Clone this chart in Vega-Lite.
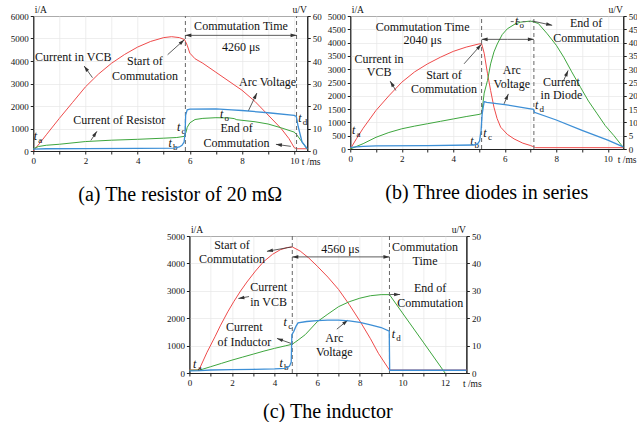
{
  "$schema": "https://vega.github.io/schema/vega-lite/v6.json",
  "padding": {"left": 9, "top": 3, "right": 0, "bottom": 0},
  "background": "white",
  "config": {
    "view": {"stroke": "#222", "strokeWidth": 1},
    "font": "Liberation Serif",
    "axis": {"labelFont": "Liberation Serif", "labelFontSize": 9, "labelColor": "#111", "titleFont": "Liberation Serif", "titleFontSize": 9.5, "titleFontWeight": "normal", "titleColor": "#111", "domainColor": "#222", "domainWidth": 1, "tickColor": "#222", "tickSize": 3, "labelPadding": 2, "gridColor": "#e6e6e6", "gridWidth": 0.7, "labelOverlap": false, "labelFlush": false},
    "text": {"font": "Liberation Serif"},
    "title": {"font": "Liberation Serif"}
  },
  "datasets": {
    "aI": [
      {"s":"A","t":0,"v":0},{"s":"A","t":0.25,"v":350},{"s":"A","t":0.5,"v":720},{"s":"A","t":1,"v":1450},{"s":"A","t":1.5,"v":2150},{"s":"A","t":2,"v":2850},{"s":"A","t":2.5,"v":3420},{"s":"A","t":3,"v":3900},{"s":"A","t":3.5,"v":4290},{"s":"A","t":4,"v":4620},{"s":"A","t":4.5,"v":4870},{"s":"A","t":5,"v":5040},{"s":"A","t":5.3,"v":5080},{"s":"A","t":5.6,"v":5040},{"s":"A","t":5.8,"v":4950},{"s":"A","t":5.9,"v":4700},{"s":"A","t":6.0,"v":4350},{"s":"A","t":6.2,"v":4100},{"s":"A","t":6.5,"v":3900},{"s":"A","t":7,"v":3500},{"s":"A","t":7.5,"v":3100},{"s":"A","t":8,"v":2700},{"s":"A","t":8.5,"v":2200},{"s":"A","t":9,"v":1600},{"s":"A","t":9.5,"v":1000},{"s":"A","t":9.8,"v":550},{"s":"A","t":10,"v":150},{"s":"A","t":10.1,"v":100},{"s":"A","t":10.5,"v":100},
      {"s":"B","t":0,"v":100},{"s":"B","t":0.2,"v":200},{"s":"B","t":0.5,"v":255},{"s":"B","t":1,"v":300},{"s":"B","t":2,"v":420},{"s":"B","t":3,"v":480},{"s":"B","t":4,"v":520},{"s":"B","t":5,"v":570},{"s":"B","t":5.5,"v":600},{"s":"B","t":5.78,"v":650},{"s":"B","t":5.85,"v":820},{"s":"B","t":5.9,"v":1050},{"s":"B","t":6.0,"v":1250},{"s":"B","t":6.2,"v":1400},{"s":"B","t":6.5,"v":1450},{"s":"B","t":7,"v":1480},{"s":"B","t":7.5,"v":1470},{"s":"B","t":7.7,"v":1440},{"s":"B","t":7.8,"v":1390},{"s":"B","t":8.5,"v":1300},{"s":"B","t":9,"v":1200},{"s":"B","t":9.5,"v":1030},{"s":"B","t":10,"v":840},{"s":"B","t":10.1,"v":720},{"s":"B","t":10.5,"v":80}
    ],
    "aU": [
      {"t":0,"v":0.8},{"t":0.5,"v":1.0},{"t":2,"v":1.1},{"t":4,"v":1.2},{"t":5.4,"v":1.3},{"t":5.6,"v":1.8},{"t":5.7,"v":2.5},{"t":5.78,"v":4},{"t":5.82,"v":8},{"t":5.84,"v":16},{"t":5.9,"v":18.3},{"t":6.0,"v":18.6},{"t":7,"v":18.7},{"t":7.6,"v":18.3},{"t":8,"v":18.0},{"t":9,"v":17.0},{"t":10,"v":15.8},{"t":10.08,"v":15.4},{"t":10.15,"v":11},{"t":10.3,"v":4},{"t":10.5,"v":1}
    ],
    "aRule": [{"t":5.83,"v":0,"v2":6000},{"t":10.09,"v":0,"v2":6000}],
    "aArr": [
      {"t":1.95,"v":3777,"t2":2.27,"v2":3258,"ang":324.5},
      {"t":5.79,"v":4946,"t2":5.15,"v2":4280,"ang":48},
      {"t":8.57,"v":2577,"t2":8.24,"v2":1777,"ang":25.5},
      {"t":2.44,"v":874,"t2":2.21,"v2":474,"ang":33.7},
      {"t":9.3,"v":296,"t2":9.87,"v2":207,"ang":277.6},
      {"t":5.83,"v":5140,"t2":7.96,"v2":5140,"ang":270},
      {"t":10.09,"v":5140,"t2":7.96,"v2":5140,"ang":90}
    ],
    "aTxt": [
      {"t":1.53,"v":4176,"txt":"Current in VCB"},
      {"t":4.28,"v":3984,"txt":"Start of"},
      {"t":4.28,"v":3347,"txt":"Commutation"},
      {"t":7.96,"v":5540,"txt":"Commutation Time"},
      {"t":7.96,"v":4620,"txt":"4260 μs"},
      {"t":8.98,"v":3066,"txt":"Arc Voltage"},
      {"t":3.3,"v":1392,"txt":"Current of Resistor"},
      {"t":7.79,"v":1022,"txt":"End of"},
      {"t":7.79,"v":370,"txt":"Commutation"}
    ],
    "aSub": [
      {"t":0.08,"v":652,"sub":"a"},{"t":5.25,"v":355,"sub":"b"},{"t":5.57,"v":1066,"sub":"c"},{"t":7.22,"v":1659,"sub":"o"},{"t":10.22,"v":1481,"sub":"d"}
    ],
    "bI": [
      {"s":"A","t":0,"v":0},{"s":"A","t":0.25,"v":400},{"s":"A","t":0.5,"v":780},{"s":"A","t":1,"v":1450},{"s":"A","t":1.5,"v":2000},{"s":"A","t":2,"v":2510},{"s":"A","t":2.5,"v":2900},{"s":"A","t":3,"v":3200},{"s":"A","t":3.5,"v":3450},{"s":"A","t":4,"v":3670},{"s":"A","t":4.5,"v":3830},{"s":"A","t":5,"v":3950},{"s":"A","t":5.1,"v":3960},{"s":"A","t":5.2,"v":3600},{"s":"A","t":5.33,"v":2830},{"s":"A","t":5.45,"v":2200},{"s":"A","t":5.58,"v":1570},{"s":"A","t":5.7,"v":1150},{"s":"A","t":5.84,"v":820},{"s":"A","t":6.1,"v":550},{"s":"A","t":6.36,"v":380},{"s":"A","t":6.7,"v":220},{"s":"A","t":7.0,"v":130},{"s":"A","t":7.13,"v":80},{"s":"A","t":7.2,"v":50},{"s":"A","t":10.6,"v":50},
      {"s":"B","t":0,"v":0},{"s":"B","t":0.5,"v":200},{"s":"B","t":1,"v":440},{"s":"B","t":1.5,"v":620},{"s":"B","t":2,"v":760},{"s":"B","t":2.5,"v":860},{"s":"B","t":3,"v":950},{"s":"B","t":3.5,"v":1040},{"s":"B","t":4,"v":1130},{"s":"B","t":4.5,"v":1220},{"s":"B","t":5,"v":1300},{"s":"B","t":5.1,"v":1330},{"s":"B","t":5.15,"v":1700},{"s":"B","t":5.2,"v":2100},{"s":"B","t":5.33,"v":2580},{"s":"B","t":5.45,"v":3200},{"s":"B","t":5.58,"v":3650},{"s":"B","t":5.71,"v":3950},{"s":"B","t":5.9,"v":4300},{"s":"B","t":6.1,"v":4520},{"s":"B","t":6.4,"v":4700},{"s":"B","t":6.62,"v":4770},{"s":"B","t":7.0,"v":4810},{"s":"B","t":7.3,"v":4720},{"s":"B","t":7.65,"v":4330},{"s":"B","t":8.0,"v":3900},{"s":"B","t":8.29,"v":3450},{"s":"B","t":8.6,"v":2900},{"s":"B","t":8.94,"v":2320},{"s":"B","t":9.25,"v":1800},{"s":"B","t":9.59,"v":1320},{"s":"B","t":9.9,"v":880},{"s":"B","t":10.24,"v":500},{"s":"B","t":10.6,"v":60}
    ],
    "bU": [
      {"t":0,"v":0.6},{"t":0.5,"v":1.0},{"t":1,"v":1.2},{"t":3,"v":1.3},{"t":4.8,"v":1.5},{"t":4.95,"v":2},{"t":5.02,"v":3},{"t":5.08,"v":7},{"t":5.12,"v":13},{"t":5.16,"v":15.5},{"t":5.2,"v":17.8},{"t":5.3,"v":17.5},{"t":6,"v":16.7},{"t":7,"v":15.1},{"t":7.12,"v":14.9},{"t":7.15,"v":13.8},{"t":8,"v":10.9},{"t":9,"v":7.0},{"t":10,"v":3.3},{"t":10.6,"v":0.8}
    ],
    "bRule": [{"t":5.1,"v":0,"v2":5000},{"t":7.13,"v":0,"v2":5000}],
    "bSeg": [{"t":6.23,"t2":7.0,"v":4790}],
    "bArr": [
      {"t":1.55,"v":2551,"t2":1.77,"v2":2200,"ang":328.5},
      {"t":5.09,"v":3934,"t2":4.42,"v2":3203,"ang":41.7},
      {"t":6.14,"v":2072,"t2":5.97,"v2":1695,"ang":23.7},
      {"t":7.84,"v":4650,"t2":7.07,"v2":4812,"ang":102.2},
      {"t":8.46,"v":2954,"t2":8.28,"v2":2563,"ang":23.9},
      {"t":5.1,"v":4122,"t2":6.1,"v2":4122,"ang":270},
      {"t":7.13,"v":4122,"t2":6.1,"v2":4122,"ang":90}
    ],
    "bTxt": [
      {"t":2.81,"v":4585,"txt":"Commutation Time"},
      {"t":2.81,"v":4085,"txt":"2040 μs"},
      {"t":1.12,"v":3391,"txt":"Current in"},
      {"t":1.12,"v":2890,"txt":"VCB"},
      {"t":3.64,"v":2765,"txt":"Start of"},
      {"t":3.64,"v":2261,"txt":"Commutation"},
      {"t":6.27,"v":2954,"txt":"Arc"},
      {"t":6.27,"v":2426,"txt":"Voltage"},
      {"t":9.16,"v":4736,"txt":"End of"},
      {"t":9.16,"v":4182,"txt":"Commutation"},
      {"t":8.2,"v":2513,"txt":"Current"},
      {"t":8.2,"v":2012,"txt":"in Diode"}
    ],
    "bSub": [
      {"t":0.13,"v":716,"sub":"a"},{"t":4.72,"v":316,"sub":"b"},{"t":5.23,"v":592,"sub":"c"},{"t":6.46,"v":4800,"sub":"o"},{"t":7.24,"v":1658,"sub":"d"}
    ],
    "cI": [
      {"s":"A","t":0,"v":110},{"s":"A","t":0.45,"v":110},{"s":"A","t":0.83,"v":760},{"s":"A","t":1.2,"v":1320},{"s":"A","t":1.45,"v":1720},{"s":"A","t":1.8,"v":2230},{"s":"A","t":2.08,"v":2600},{"s":"A","t":2.4,"v":2990},{"s":"A","t":2.7,"v":3320},{"s":"A","t":3.1,"v":3720},{"s":"A","t":3.48,"v":4060},{"s":"A","t":3.9,"v":4330},{"s":"A","t":4.27,"v":4500},{"s":"A","t":4.6,"v":4580},{"s":"A","t":4.83,"v":4600},{"s":"A","t":5.2,"v":4450},{"s":"A","t":5.6,"v":4200},{"s":"A","t":6,"v":3900},{"s":"A","t":6.5,"v":3500},{"s":"A","t":7,"v":3050},{"s":"A","t":7.5,"v":2500},{"s":"A","t":8,"v":1900},{"s":"A","t":8.5,"v":1250},{"s":"A","t":8.87,"v":720},{"s":"A","t":9.2,"v":330},{"s":"A","t":9.39,"v":110},{"s":"A","t":13,"v":110},
      {"s":"B","t":0,"v":100},{"s":"B","t":0.5,"v":110},{"s":"B","t":1,"v":230},{"s":"B","t":1.5,"v":350},{"s":"B","t":2,"v":470},{"s":"B","t":2.5,"v":580},{"s":"B","t":3,"v":690},{"s":"B","t":3.5,"v":800},{"s":"B","t":4,"v":900},{"s":"B","t":4.5,"v":990},{"s":"B","t":4.83,"v":1050},{"s":"B","t":5.1,"v":1200},{"s":"B","t":5.44,"v":1400},{"s":"B","t":6,"v":1870},{"s":"B","t":6.5,"v":2150},{"s":"B","t":7,"v":2420},{"s":"B","t":7.5,"v":2600},{"s":"B","t":8,"v":2730},{"s":"B","t":8.5,"v":2820},{"s":"B","t":9,"v":2860},{"s":"B","t":9.39,"v":2860},{"s":"B","t":10,"v":2190},{"s":"B","t":11,"v":1100},{"s":"B","t":12,"v":0}
    ],
    "cU": [
      {"t":0,"v":0.8},{"t":0.5,"v":0.9},{"t":1,"v":1.1},{"t":2,"v":1.25},{"t":3,"v":1.35},{"t":4,"v":1.5},{"t":4.5,"v":1.7},{"t":4.7,"v":2.5},{"t":4.78,"v":4},{"t":4.81,"v":14},{"t":4.9,"v":15.2},{"t":5.0,"v":17},{"t":5.1,"v":18.3},{"t":5.5,"v":18.8},{"t":6,"v":19.1},{"t":6.5,"v":19.3},{"t":7,"v":19.3},{"t":7.5,"v":19},{"t":8,"v":18.5},{"t":8.5,"v":17.6},{"t":9,"v":16.6},{"t":9.38,"v":15.3},{"t":9.4,"v":1},{"t":13,"v":1}
    ],
    "cRule": [{"t":4.83,"v":0,"v2":5000},{"t":9.39,"v":0,"v2":5000}],
    "cArr": [
      {"t":3.64,"v":4440,"t2":4.8,"v2":4600,"ang":260},
      {"t":2.3,"v":2720,"t2":2.8,"v2":2790,"ang":260},
      {"t":4.11,"v":1263,"t2":4.77,"v2":1080,"ang":289.5},
      {"t":9.89,"v":2865,"t2":9.42,"v2":2865,"ang":90},
      {"t":7.44,"v":1930,"t2":6.92,"v2":1600,"ang":51},
      {"t":4.83,"v":4237,"t2":7.11,"v2":4237,"ang":270},
      {"t":9.39,"v":4237,"t2":7.11,"v2":4237,"ang":90}
    ],
    "cTxt": [
      {"t":2.0,"v":4662,"txt":"Start of"},
      {"t":2.0,"v":4152,"txt":"Commutation"},
      {"t":7.08,"v":4540,"txt":"4560 μs"},
      {"t":11.06,"v":4601,"txt":"Commutation"},
      {"t":11.06,"v":4091,"txt":"Time"},
      {"t":3.72,"v":3144,"txt":"Current"},
      {"t":3.72,"v":2598,"txt":"in VCB"},
      {"t":11.3,"v":3084,"txt":"End of"},
      {"t":11.3,"v":2562,"txt":"Commutation"},
      {"t":2.58,"v":1663,"txt":"Current"},
      {"t":2.58,"v":1141,"txt":"of Inductor"},
      {"t":6.8,"v":1263,"txt":"Arc"},
      {"t":6.8,"v":777,"txt":"Voltage"}
    ],
    "cSub": [
      {"t":0.25,"v":316,"sub":"a"},{"t":4.31,"v":364,"sub":"b"},{"t":4.5,"v":1845,"sub":"c"},{"t":9.58,"v":1408,"sub":"d"}
    ]
  },
  "center": true,
  "spacing": 18,
  "vconcat": [
    {
      "bounds": "flush",
      "spacing": 43,
      "hconcat": [
        {
          "width": 274, "height": 135,
          "title": {"text": "(a) The resistor of 20 mΩ", "orient": "bottom", "anchor": "middle", "frame": "group", "dx": 10, "offset": 35, "baseline": "alphabetic", "fontSize": 20, "font": "Liberation Serif", "fontWeight": "normal", "color": "#000"},
          "resolve": {"scale": {"y": "independent"}},
          "layer": [
            {
              "encoding": {
                "x": {"field": "t", "type": "quantitative", "scale": {"domain": [0, 10.5], "nice": false}, "axis": {"values": [0,1,2,3,4,5,6,7,8,9,10], "format": "d", "labelExpr": "datum.value % 2 === 0 ? datum.label : ''", "title": "t /ms", "titleX": 268, "titleY": 10, "titleAlign": "left", "titleBaseline": "middle", "grid": true}},
                "y": {"field": "v", "type": "quantitative", "scale": {"domain": [0, 6000], "nice": false}, "axis": {"values": [0,1000,2000,3000,4000,5000,6000], "format": "d", "title": "i/A", "titleAngle": 0, "titleX": 1, "titleY": -4, "titleAlign": "left", "titleBaseline": "alphabetic", "grid": true}}
              },
              "layer": [
                {"data": {"name": "aI"}, "mark": {"type": "line", "strokeWidth": 1},
                 "encoding": {"color": {"field": "s", "type": "nominal", "scale": {"domain": ["A", "B"], "range": ["#ef4b4b", "#3ea63e"]}, "legend": null}}},
                {"data": {"name": "aRule"}, "mark": {"type": "rule", "strokeDash": [4, 3], "color": "#666", "strokeWidth": 1},
                 "encoding": {"y2": {"field": "v2"}}},
                {"data": {"name": "aArr"}, "mark": {"type": "rule", "color": "#333", "strokeWidth": 0.8},
                 "encoding": {"x2": {"field": "t2"}, "y2": {"field": "v2"}}},
                {"data": {"name": "aArr"}, "mark": {"type": "point", "shape": "M0,0L0.6,2L-0.6,2Z", "filled": true, "size": 36, "color": "#333", "opacity": 1, "strokeWidth": 0},
                 "encoding": {"angle": {"field": "ang", "type": "quantitative", "scale": null}}},
                {"data": {"name": "aTxt"}, "mark": {"type": "text", "fontSize": 12, "color": "#111", "align": "center", "baseline": "middle"},
                 "encoding": {"text": {"field": "txt"}}},
                {"data": {"name": "aSub"}, "mark": {"type": "text", "fontSize": 12, "fontStyle": "italic", "text": "t", "color": "#111", "align": "center", "baseline": "middle"},
                 "encoding": {}},
                {"data": {"name": "aSub"}, "mark": {"type": "text", "fontSize": 9, "dx": 5, "dy": 4, "color": "#111", "align": "center", "baseline": "middle"},
                 "encoding": {"text": {"field": "sub"}}}
              ]
            },
            {"data": {"name": "aU"}, "mark": {"type": "line", "color": "#3d8fd6", "strokeWidth": 1.3},
             "encoding": {
               "x": {"field": "t", "type": "quantitative", "scale": {"domain": [0, 10.5], "nice": false}, "axis": {"values": [0,1,2,3,4,5,6,7,8,9,10], "format": "d", "labelExpr": "datum.value % 2 === 0 ? datum.label : ''", "title": "t /ms", "titleX": 268, "titleY": 10, "titleAlign": "left", "titleBaseline": "middle", "grid": true}},
               "y": {"field": "v", "type": "quantitative", "scale": {"domain": [0, 60], "nice": false}, "axis": {"orient": "right", "values": [0,10,20,30,40,50,60], "format": "d", "title": "u/V", "titleAngle": 0, "titleX": -1, "titleY": -4, "titleAlign": "right", "titleBaseline": "alphabetic", "grid": false}}
             }}
          ]
        },
        {
          "width": 273, "height": 133,
          "title": {"text": "(b) Three diodes in series", "orient": "bottom", "anchor": "middle", "frame": "group", "dx": 0, "offset": 35, "baseline": "alphabetic", "fontSize": 20, "font": "Liberation Serif", "fontWeight": "normal", "color": "#000"},
          "resolve": {"scale": {"y": "independent"}},
          "layer": [
            {
              "encoding": {
                "x": {"field": "t", "type": "quantitative", "scale": {"domain": [0, 10.6], "nice": false}, "axis": {"values": [0,1,2,3,4,5,6,7,8,9,10], "format": "d", "labelExpr": "datum.value % 2 === 0 ? datum.label : ''", "title": "t /ms", "titleX": 267, "titleY": 10, "titleAlign": "left", "titleBaseline": "middle", "grid": true}},
                "y": {"field": "v", "type": "quantitative", "scale": {"domain": [0, 5000], "nice": false}, "axis": {"values": [0,500,1000,1500,2000,2500,3000,3500,4000,4500,5000], "format": "d", "title": "i/A", "titleAngle": 0, "titleX": 1, "titleY": -4, "titleAlign": "left", "titleBaseline": "alphabetic", "grid": true}}
              },
              "layer": [
                {"data": {"name": "bI"}, "mark": {"type": "line", "strokeWidth": 1},
                 "encoding": {"color": {"field": "s", "type": "nominal", "scale": {"domain": ["A", "B"], "range": ["#ef4b4b", "#3ea63e"]}, "legend": null}}},
                {"data": {"name": "bRule"}, "mark": {"type": "rule", "strokeDash": [4, 3], "color": "#666", "strokeWidth": 1},
                 "encoding": {"y2": {"field": "v2"}}},
                {"data": {"name": "bSeg"}, "mark": {"type": "rule", "strokeDash": [3, 3], "color": "#666", "strokeWidth": 1},
                 "encoding": {"x2": {"field": "t2"}}},
                {"data": {"name": "bArr"}, "mark": {"type": "rule", "color": "#333", "strokeWidth": 0.8},
                 "encoding": {"x2": {"field": "t2"}, "y2": {"field": "v2"}}},
                {"data": {"name": "bArr"}, "mark": {"type": "point", "shape": "M0,0L0.6,2L-0.6,2Z", "filled": true, "size": 36, "color": "#333", "opacity": 1, "strokeWidth": 0},
                 "encoding": {"angle": {"field": "ang", "type": "quantitative", "scale": null}}},
                {"data": {"name": "bTxt"}, "mark": {"type": "text", "fontSize": 12, "color": "#111", "align": "center", "baseline": "middle"},
                 "encoding": {"text": {"field": "txt"}}},
                {"data": {"name": "bSub"}, "mark": {"type": "text", "fontSize": 12, "fontStyle": "italic", "text": "t", "color": "#111", "align": "center", "baseline": "middle"},
                 "encoding": {}},
                {"data": {"name": "bSub"}, "mark": {"type": "text", "fontSize": 9, "dx": 5, "dy": 4, "color": "#111", "align": "center", "baseline": "middle"},
                 "encoding": {"text": {"field": "sub"}}}
              ]
            },
            {"data": {"name": "bU"}, "mark": {"type": "line", "color": "#3d8fd6", "strokeWidth": 1.3},
             "encoding": {
               "x": {"field": "t", "type": "quantitative", "scale": {"domain": [0, 10.6], "nice": false}, "axis": {"values": [0,1,2,3,4,5,6,7,8,9,10], "format": "d", "labelExpr": "datum.value % 2 === 0 ? datum.label : ''", "title": "t /ms", "titleX": 267, "titleY": 10, "titleAlign": "left", "titleBaseline": "middle", "grid": true}},
               "y": {"field": "v", "type": "quantitative", "scale": {"domain": [0, 50], "nice": false}, "axis": {"orient": "right", "values": [0,5,10,15,20,25,30,35,40,45,50], "format": "d", "title": "u/V", "titleAngle": 0, "titleX": -1, "titleY": -4, "titleAlign": "right", "titleBaseline": "alphabetic", "grid": false}}
             }}
          ]
        }
      ]
    },
    {
      "width": 277, "height": 137,
      "title": {"text": "(c) The inductor", "orient": "bottom", "anchor": "middle", "frame": "group", "dx": 0, "offset": 30, "baseline": "alphabetic", "fontSize": 20, "font": "Liberation Serif", "fontWeight": "normal", "color": "#000"},
      "resolve": {"scale": {"y": "independent"}},
      "layer": [
        {
          "encoding": {
            "x": {"field": "t", "type": "quantitative", "scale": {"domain": [0, 13], "nice": false}, "axis": {"values": [0,1,2,3,4,5,6,7,8,9,10,11,12], "format": "d", "labelExpr": "datum.value % 2 === 0 ? datum.label : ''", "title": "t /ms", "titleX": 273, "titleY": 10, "titleAlign": "left", "titleBaseline": "middle", "grid": true}},
            "y": {"field": "v", "type": "quantitative", "scale": {"domain": [0, 5000], "nice": false}, "axis": {"values": [0,1000,2000,3000,4000,5000], "format": "d", "title": "i/A", "titleAngle": 0, "titleX": 1, "titleY": -4, "titleAlign": "left", "titleBaseline": "alphabetic", "grid": true}}
          },
          "layer": [
            {"data": {"name": "cI"}, "mark": {"type": "line", "strokeWidth": 1},
             "encoding": {"color": {"field": "s", "type": "nominal", "scale": {"domain": ["A", "B"], "range": ["#ef4b4b", "#3ea63e"]}, "legend": null}}},
            {"data": {"name": "cRule"}, "mark": {"type": "rule", "strokeDash": [4, 3], "color": "#666", "strokeWidth": 1},
             "encoding": {"y2": {"field": "v2"}}},
            {"data": {"name": "cArr"}, "mark": {"type": "rule", "color": "#333", "strokeWidth": 0.8},
             "encoding": {"x2": {"field": "t2"}, "y2": {"field": "v2"}}},
            {"data": {"name": "cArr"}, "mark": {"type": "point", "shape": "M0,0L0.6,2L-0.6,2Z", "filled": true, "size": 36, "color": "#333", "opacity": 1, "strokeWidth": 0},
             "encoding": {"angle": {"field": "ang", "type": "quantitative", "scale": null}}},
            {"data": {"name": "cTxt"}, "mark": {"type": "text", "fontSize": 12, "color": "#111", "align": "center", "baseline": "middle"},
             "encoding": {"text": {"field": "txt"}}},
            {"data": {"name": "cSub"}, "mark": {"type": "text", "fontSize": 12, "fontStyle": "italic", "text": "t", "color": "#111", "align": "center", "baseline": "middle"},
             "encoding": {}},
            {"data": {"name": "cSub"}, "mark": {"type": "text", "fontSize": 9, "dx": 5, "dy": 4, "color": "#111", "align": "center", "baseline": "middle"},
             "encoding": {"text": {"field": "sub"}}}
          ]
        },
        {"data": {"name": "cU"}, "mark": {"type": "line", "color": "#3d8fd6", "strokeWidth": 1.3},
         "encoding": {
           "x": {"field": "t", "type": "quantitative", "scale": {"domain": [0, 13], "nice": false}, "axis": {"values": [0,1,2,3,4,5,6,7,8,9,10,11,12], "format": "d", "labelExpr": "datum.value % 2 === 0 ? datum.label : ''", "title": "t /ms", "titleX": 273, "titleY": 10, "titleAlign": "left", "titleBaseline": "middle", "grid": true}},
           "y": {"field": "v", "type": "quantitative", "scale": {"domain": [0, 50], "nice": false}, "axis": {"orient": "right", "values": [0,10,20,30,40,50], "format": "d", "title": "u/V", "titleAngle": 0, "titleX": -1, "titleY": -4, "titleAlign": "right", "titleBaseline": "alphabetic", "grid": false}}
         }}
      ]
    }
  ]
}
